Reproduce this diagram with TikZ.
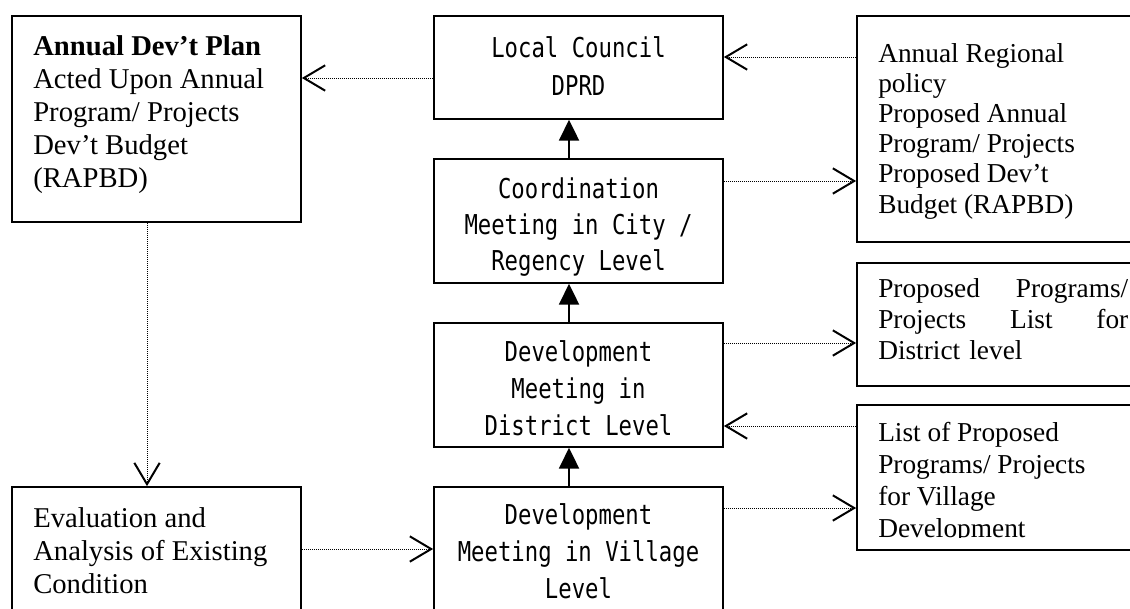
\documentclass[tikz,border=0pt]{standalone}
\usepackage{fontspec}
\setmainfont{Liberation Serif}
\newfontfamily\monofont[FakeStretch=0.815]{DejaVu Sans Mono}
\usetikzlibrary{arrows.meta,fit}

\tikzset{
  x=0.75pt, y=-0.75pt,
  panel/.style={draw, line width=1.3pt, rectangle, inner sep=0pt},
  % multi-line labels are placed by the baseline of their last line
  monolabel/.style={font=\monofont\fontsize{20.5}{#1}\selectfont, align=center, anchor=base, inner sep=0pt},
  serifleft/.style={font=\fontsize{21.5}{24.75}\selectfont, align=left, anchor=base west, inner sep=0pt},
  serifright/.style={font=\fontsize{20.5}{#1}\selectfont, align=left, anchor=base west, inner sep=0pt},
  feed/.style={line width=0.75pt, dash pattern=on 0.75pt off 0.75pt,
    -{Straight Barb[length=16pt,width=19pt,line width=1.5pt]}},
  flow/.style={line width=1.4pt, -{Triangle[length=15.5pt,width=15pt]}}
}

\begin{document}
\begin{tikzpicture}
\clip (0,0) rectangle (1130,608);
\fill[white] (0,0) rectangle (1130,608);

% boxes
\node[panel, fit={(12,16) (301,222)}] (plan) {};
\node[panel, fit={(12,487) (301,625)}] (eval) {};
\node[panel, fit={(434,16) (723,119)}] (council) {};
\node[panel, fit={(434,159) (723,283)}] (coord) {};
\node[panel, fit={(434,323) (723,447)}] (district) {};
\node[panel, fit={(434,487) (723,625)}] (village) {};
\node[panel, fit={(857,16) (1145,242)}] (policy) {};
\node[panel, fit={(857,263) (1145,386)}] (distlist) {};
\node[panel, fit={(857,405) (1145,550)}] (villlist) {};

% box texts
\node[serifleft] (plantext) at (33,187)
  {\textbf{Annual Dev’t Plan}\\Acted Upon Annual\\Program/ Projects\\Dev’t Budget\\(RAPBD)};
\node[serifleft] (evaltext) at (33,593)
  {Evaluation and\\Analysis of Existing\\Condition};
\node[monolabel=28.5pt] (counciltext) at (578.5,95) {Local Council\\DPRD};
\node[monolabel=27pt] (coordtext) at (578.5,270) {Coordination\\Meeting in City /\\Regency Level};
\node[monolabel=27.4pt] (districttext) at (578.5,435) {Development\\Meeting in\\District Level};
\node[monolabel=27.4pt] (villagetext) at (578.5,598) {Development\\Meeting in Village\\Level};
\node[serifright=22.6pt] (policytext) at (878,213)
  {Annual Regional\\policy\\Proposed Annual\\Program/ Projects\\Proposed Dev’t\\Budget (RAPBD)};
\node[serifright=23.6pt, text width=187.5pt] (distlisttext) at (878,297)
  {Proposed\hfill Programs/\\Projects\hfill List\hfill for\\District level};
\begin{scope}
  \clip (857,405) rectangle (1130,537);
  \node[serifright=23.8pt] (villlisttext) at (878,537)
    {List of Proposed\\Programs/ Projects\\for Village\\Development};
\end{scope}

% connector rows and columns
\coordinate (rowA) at (0,78);
\coordinate (rowB) at (0,57);
\coordinate (rowC) at (0,181);
\coordinate (rowD) at (0,343);
\coordinate (rowE) at (0,426);
\coordinate (rowF) at (0,508);
\coordinate (rowG) at (0,549);
\coordinate (colA) at (147,0);
\coordinate (colS) at (569,0);

% dotted information flows
\draw[feed] (council.west |- rowA) -- (plan.east |- rowA);
\draw[feed] (policy.west |- rowB) -- (council.east |- rowB);
\draw[feed] (coord.east |- rowC) -- (policy.west |- rowC);
\draw[feed] (district.east |- rowD) -- (distlist.west |- rowD);
\draw[feed] (villlist.west |- rowE) -- (district.east |- rowE);
\draw[feed] (village.east |- rowF) -- (villlist.west |- rowF);
\draw[feed] (eval.east |- rowG) -- (village.west |- rowG);
\draw[feed] (plan.south -| colA) -- (eval.north -| colA);

% solid upward flows
\draw[flow] (coord.north -| colS) -- (council.south -| colS);
\draw[flow] (district.north -| colS) -- (coord.south -| colS);
\draw[flow] (village.north -| colS) -- (district.south -| colS);
\end{tikzpicture}
\end{document}
